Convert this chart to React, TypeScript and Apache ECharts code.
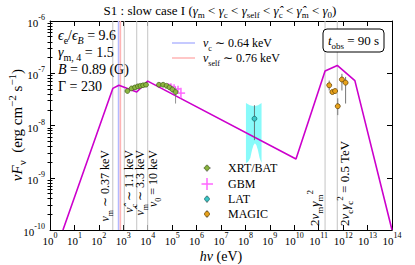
import React, { useEffect, useRef } from 'react';
import * as echarts from 'echarts';

const FONT = 'Liberation Serif, serif';

// decade exponents for axis ticks
const xDecades = [0, 14];
const yDecades = [-10, -6];
const yMinorMultipliers = [2, 3, 4, 5, 6, 7, 8, 9];

// Model spectrum vertices: photon energy (eV) and νFν (erg cm^-2 s^-1)
const modelE = [3.39, 372, 661, 3550, 1.0e4, 1.175e10, 1.82e11, 5.75e11, 3.02e12, 1.0e14];
const modelF = [1.0e-10, 5.13e-8, 5.89e-8, 4.37e-8, 7.08e-8, 2.29e-9, 1.1e-7, 1.41e-7, 7.24e-8, 1.0e-10];

// characteristic frequencies (eV)
const nuGrayLines = [372, 1100, 3550, 1.0e4, 1.82e11, 5.75e11];
const nuC = 640;
const nuSelf = 760;

// XRT/BAT
const xrtE = [1480, 2190, 3020, 3980, 5010, 6460, 8510, 28800, 42700, 58900, 77600, 102000, 138000];
const xrtElo = [1350, 2000, 2760, 3640, 4580, 5900, 7780, 26300, 39000, 53800, 70900, 93200, 126000];
const xrtEhi = [1620, 2400, 3300, 4350, 5480, 7070, 9310, 31500, 46700, 64400, 84900, 111600, 151000];
const xrtF = [4.57e-8, 5.13e-8, 5.37e-8, 5.62e-8, 5.75e-8, 5.89e-8, 6.03e-8, 6.03e-8, 6.03e-8, 5.75e-8, 5.37e-8, 4.9e-8, 4.37e-8];
const xrtFlo = [4.27e-8, 4.79e-8, 5.01e-8, 5.25e-8, 5.37e-8, 5.5e-8, 5.62e-8, 5.62e-8, 5.62e-8, 5.25e-8, 4.9e-8, 4.27e-8, 2.63e-8];
const xrtFhi = [4.9e-8, 5.5e-8, 5.75e-8, 6.03e-8, 6.17e-8, 6.31e-8, 6.46e-8, 6.46e-8, 6.46e-8, 6.17e-8, 5.89e-8, 5.62e-8, 5.37e-8];

// GBM
const gbmE = [70800, 89100, 120000, 174000, 229000];
const gbmElo = [61700, 77600, 100000, 138000, 155000];
const gbmEhi = [81300, 102300, 144500, 218800, 339000];
const gbmF = [5.89e-8, 5.89e-8, 5.5e-8, 5.01e-8, 4.17e-8];
const gbmFlo = [5.37e-8, 5.37e-8, 4.9e-8, 4.37e-8, 3.31e-8];
const gbmFhi = [6.46e-8, 6.46e-8, 6.17e-8, 5.75e-8, 5.25e-8];

// LAT
const latE = [2.34e8];
const latF = [1.35e-8];
const latFlo = [5.25e-9];
const latFhi = [2.45e-8];
const latBandUpE = [1.05e8, 1.51e8, 2.24e8, 3.31e8, 4.57e8];
const latBandUpF = [2.69e-8, 2.45e-8, 2.34e-8, 2.45e-8, 2.69e-8];
const latBandLoE = [4.57e8, 3.8e8, 3.24e8, 2.82e8, 2.45e8, 2.14e8, 1.86e8, 1.58e8, 1.26e8, 1.05e8];
const latBandLoF = [1.91e-9, 2.4e-9, 3.39e-9, 4.17e-9, 4.57e-9, 4.17e-9, 3.39e-9, 2.4e-9, 2.0e-9, 1.91e-9];

// MAGIC
const magE = [2.69e11, 3.63e11, 4.68e11, 6.03e11, 8.91e11, 1.26e12];
const magF = [5.89e-8, 4.37e-8, 4.57e-8, 2.34e-8, 7.59e-8, 6.61e-8];
const magFlo = [4.68e-8, 4.07e-8, 4.27e-8, 1.58e-8, 4.68e-8, 2.63e-8];
const magFhi = [7.24e-8, 4.68e-8, 4.9e-8, 3.31e-8, 9.77e-8, 8.51e-8];

const lg = Math.log10;

function richFor(fs: number) {
  const sub = Math.round(fs * 0.7);
  return {
    r: { fontFamily: FONT, fontSize: fs, lineHeight: fs + 6, color: '#000' },
    i: { fontFamily: FONT, fontSize: fs, lineHeight: fs + 6, fontStyle: 'italic', color: '#000' },
    s: { fontFamily: FONT, fontSize: sub, lineHeight: sub, verticalAlign: 'bottom', color: '#000' },
    si: { fontFamily: FONT, fontSize: sub, lineHeight: sub, verticalAlign: 'bottom', fontStyle: 'italic', color: '#000' },
    p: { fontFamily: FONT, fontSize: sub, lineHeight: sub, verticalAlign: 'top', color: '#000' },
  };
}

function txt(x: number, y: number, text: string, fs: number, extra: any = {}) {
  const { rotation, align, verticalAlign } = extra;
  return {
    type: 'text',
    x,
    y,
    rotation: rotation || 0,
    z: 100,
    style: {
      text,
      rich: richFor(fs),
      fontFamily: FONT,
      align: align || 'left',
      verticalAlign: verticalAlign || 'middle',
    },
  };
}

function errRows(E: number[], F: number[], Elo: number[] | null, Ehi: number[] | null, Flo: number[], Fhi: number[]) {
  return E.map((e, k) => [
    lg(e),
    lg(F[k]),
    lg(Elo ? Elo[k] : e),
    lg(Ehi ? Ehi[k] : e),
    lg(Flo[k]),
    lg(Fhi[k]),
  ]);
}

function errSeries(name: string, rows: number[][], o: any) {
  return {
    type: 'custom',
    name,
    z: o.z || 5,
    data: rows,
    renderItem: (params: any, api: any) => {
      const x = api.value(0), y = api.value(1);
      const c = api.coord([x, y]);
      const pl = api.coord([api.value(2), y]);
      const ph = api.coord([api.value(3), y]);
      const ql = api.coord([x, api.value(4)]);
      const qh = api.coord([x, api.value(5)]);
      const children: any[] = [];
      if (Math.abs(ph[0] - pl[0]) > 0.5)
        children.push({ type: 'line', shape: { x1: pl[0], y1: pl[1], x2: ph[0], y2: ph[1] }, style: { stroke: o.bar, lineWidth: o.w } });
      children.push({ type: 'line', shape: { x1: ql[0], y1: ql[1], x2: qh[0], y2: qh[1] }, style: { stroke: o.bar, lineWidth: o.w } });
      if (o.r)
        children.push({ type: 'circle', shape: { cx: c[0], cy: c[1], r: o.r }, style: { fill: o.fill, stroke: o.stroke, lineWidth: 0.7 } });
      return { type: 'group', children };
    },
  };
}

export default function App() {
  const ref = useRef<HTMLDivElement>(null);
  useEffect(() => {
    if (!ref.current) return;
    const chart = echarts.init(ref.current, undefined, { renderer: 'svg' });

    const yMinor: number[] = [];
    for (let n = yDecades[0]; n < yDecades[1]; n++) yMinorMultipliers.forEach((k) => yMinor.push(n + lg(k)));

    const tickRich = {
      b: { fontFamily: FONT, fontSize: 11, lineHeight: 15, color: '#000', verticalAlign: 'bottom' },
      e: { fontFamily: FONT, fontSize: 8, lineHeight: 8, color: '#000', verticalAlign: 'top' },
    };
    const expLabel = (v: number) => `{b|10}{e|${Math.round(v)}}`;

    const axisLineStyle = { show: true, onZero: false, lineStyle: { color: '#000', width: 1 } };
    const modelData = modelE.map((e, k) => [lg(e), lg(modelF[k])]);

    const vlines: any[] = nuGrayLines.map((e) => [lg(e), 0]);
    vlines.push([lg(nuC), 1]);
    vlines.push([lg(nuSelf), 2]);
    const vColors = ['#c4c4c4', '#b3b9ff', '#ffb4b4'];
    const vWidths = [1, 1.6, 1.6];

    const bandPts: number[][] = [];
    latBandUpE.forEach((e, k) => bandPts.push([lg(e), lg(latBandUpF[k])]));
    latBandLoE.forEach((e, k) => bandPts.push([lg(e), lg(latBandLoF[k])]));

    const option: any = {
      animation: false,
      textStyle: { fontFamily: FONT },
      grid: { left: 50, right: 23, top: 21, bottom: 35 },
      xAxis: [
        {
          type: 'value', min: xDecades[0], max: xDecades[1], interval: 1, position: 'bottom',
          axisLine: axisLineStyle,
          axisTick: { show: true, inside: true, length: 5, lineStyle: { color: '#000' } },
          axisLabel: { formatter: expLabel, rich: tickRich, margin: 1, fontFamily: FONT },
          splitLine: { show: false },
        },
        {
          type: 'value', min: xDecades[0], max: xDecades[1], interval: 1, position: 'top',
          axisLine: axisLineStyle,
          axisTick: { show: true, inside: true, length: 5, lineStyle: { color: '#000' } },
          axisLabel: { show: false },
          splitLine: { show: false },
        },
      ],
      yAxis: [
        {
          type: 'value', min: yDecades[0], max: yDecades[1], interval: 1, position: 'left',
          axisLine: axisLineStyle,
          axisTick: { show: true, inside: true, length: 5, lineStyle: { color: '#000' } },
          axisLabel: { formatter: expLabel, rich: tickRich, margin: 5, fontFamily: FONT },
          splitLine: { show: false },
        },
        {
          type: 'value', min: yDecades[0], max: yDecades[1], interval: 1, position: 'right',
          axisLine: axisLineStyle,
          axisTick: { show: true, inside: true, length: 5, lineStyle: { color: '#000' } },
          axisLabel: { show: false },
          splitLine: { show: false },
        },
        {
          type: 'value', min: yDecades[0], max: yDecades[1], position: 'left',
          axisLine: { show: false },
          axisTick: { show: true, inside: true, length: 2.5, customValues: yMinor, lineStyle: { color: '#000' } },
          axisLabel: { show: false },
          splitLine: { show: false },
        },
        {
          type: 'value', min: yDecades[0], max: yDecades[1], position: 'right',
          axisLine: { show: false },
          axisTick: { show: true, inside: true, length: 2.5, customValues: yMinor, lineStyle: { color: '#000' } },
          axisLabel: { show: false },
          splitLine: { show: false },
        },
      ],
      series: [
        {
          type: 'custom',
          name: 'lines',
          z: 1,
          data: vlines,
          renderItem: (params: any, api: any) => {
            const x = api.value(0);
            const t = api.value(1);
            const a = api.coord([x, yDecades[0]]);
            const b = api.coord([x, yDecades[1]]);
            return { type: 'line', shape: { x1: a[0], y1: a[1], x2: b[0], y2: b[1] }, style: { stroke: vColors[t], lineWidth: vWidths[t] } };
          },
        },
        {
          type: 'custom',
          name: 'LAT band',
          z: 2,
          data: [[lg(latE[0]), lg(latF[0])]],
          renderItem: (params: any, api: any) => ({
            type: 'polygon',
            shape: { points: bandPts.map((p) => api.coord(p)) },
            style: { fill: '#88fafa', stroke: 'none' },
          }),
        },
        {
          type: 'line',
          name: 'model',
          z: 3,
          data: modelData,
          symbol: 'none',
          clip: true,
          lineStyle: { color: '#cc00cc', width: 1.6 },
        },
        errSeries('GBM', errRows(gbmE, gbmF, gbmElo, gbmEhi, gbmFlo, gbmFhi), { bar: '#ff66ff', w: 1.5, z: 4 }),
        errSeries('XRT/BAT', errRows(xrtE, xrtF, xrtElo, xrtEhi, xrtFlo, xrtFhi), { bar: '#777', w: 0.8, r: 2.4, fill: '#8cb640', stroke: '#3e5a14', z: 5 }),
        errSeries('LAT', errRows(latE, latF, null, null, latFlo, latFhi), { bar: '#555', w: 0.8, r: 2.4, fill: '#3cc8c8', stroke: '#116060', z: 5 }),
        errSeries('MAGIC', errRows(magE, magF, null, null, magFlo, magFhi), { bar: '#777', w: 1, r: 2.5, fill: '#e8a21c', stroke: '#5a3c00', z: 6 }),
      ],
      graphic: [
        // title
        txt(220, 10, '{r|S1 : slow case I (}{i|γ}{s|m}{r| < }{i|γ}{s|c}{r| < }{i|γ}{s|self}{r| < }{i|γ̂}{s|c}{r| < }{i|γ̂}{s|m}{r| < }{i|γ}{s|0}{r|)}', 13, { align: 'center' }),
        // parameters
        txt(58, 35, '{i|ϵ}{s|e}{r|/}{i|ϵ}{si|B}{r| = 9.6}', 14),
        txt(58, 52, '{i|γ}{s|m, 4}{r| = 1.5}', 14),
        txt(58, 69, '{i|B}{r| = 0.89 (G)}', 14),
        txt(58, 86, '{r|Γ = 230}', 14),
        // line legend
        { type: 'line', z: 100, shape: { x1: 172, y1: 43, x2: 195, y2: 43 }, style: { stroke: '#b3b9ff', lineWidth: 1.5 } },
        { type: 'line', z: 100, shape: { x1: 172, y1: 58, x2: 195, y2: 58 }, style: { stroke: '#ffb4b4', lineWidth: 1.5 } },
        txt(203, 43, '{i|ν}{s|c}{r| ∼ 0.64 keV}', 12),
        txt(203, 58, '{i|ν}{s|self}{r| ∼ 0.76 keV}', 12),
        // t_obs box
        { type: 'rect', z: 99, shape: { x: 323, y: 29, width: 61, height: 23, r: 4 }, style: { fill: '#fff', stroke: '#000', lineWidth: 1 } },
        txt(353.5, 40.5, '{i|t}{s|obs}{r| = 90 s}', 13, { align: 'center' }),
        // vertical labels
        txt(114, 150, '{i|ν}{s|m}{r| ∼ 0.37 keV}', 12, { rotation: Math.PI / 2, align: 'right', verticalAlign: 'bottom' }),
        txt(138, 150, '{i|ν̂}{s|c}{r| ∼ 1.1 keV}', 12, { rotation: Math.PI / 2, align: 'right', verticalAlign: 'bottom' }),
        txt(149, 150, '{i|ν̂}{s|m}{r| ∼ 3.3 keV}', 12, { rotation: Math.PI / 2, align: 'right', verticalAlign: 'bottom' }),
        txt(162, 150, '{i|ν}{s|0}{r| = 10 keV}', 12, { rotation: Math.PI / 2, align: 'right', verticalAlign: 'bottom' }),
        txt(324, 226, '{r|2}{i|ν}{s|m}{i|γ}{s|m}{p|2}', 13, { rotation: Math.PI / 2, align: 'left', verticalAlign: 'bottom' }),
        txt(354, 226, '{r|2}{i|ν}{s|c}{i|γ}{s|c}{p|2}{r| = 0.5 TeV}', 13, { rotation: Math.PI / 2, align: 'left', verticalAlign: 'bottom' }),
        // data legend
        { type: 'line', z: 100, shape: { x1: 203.5, y1: 168, x2: 211, y2: 168 }, style: { stroke: '#777', lineWidth: 0.8 } },
        { type: 'line', z: 100, shape: { x1: 207, y1: 164.5, x2: 207, y2: 172 }, style: { stroke: '#777', lineWidth: 0.8 } },
        { type: 'circle', z: 101, shape: { cx: 207, cy: 168, r: 2.4 }, style: { fill: '#8cb640', stroke: '#3e5a14', lineWidth: 0.7 } },
        { type: 'line', z: 100, shape: { x1: 201.5, y1: 184, x2: 213, y2: 184 }, style: { stroke: '#ff66ff', lineWidth: 1.5 } },
        { type: 'line', z: 100, shape: { x1: 207, y1: 178, x2: 207, y2: 190 }, style: { stroke: '#ff66ff', lineWidth: 1.5 } },
        { type: 'line', z: 100, shape: { x1: 207, y1: 195.5, x2: 207, y2: 203 }, style: { stroke: '#555', lineWidth: 0.8 } },
        { type: 'circle', z: 101, shape: { cx: 207, cy: 199, r: 2.4 }, style: { fill: '#3cc8c8', stroke: '#116060', lineWidth: 0.7 } },
        { type: 'line', z: 100, shape: { x1: 207, y1: 210, x2: 207, y2: 218 }, style: { stroke: '#777', lineWidth: 1 } },
        { type: 'circle', z: 101, shape: { cx: 207, cy: 214, r: 2.5 }, style: { fill: '#e8a21c', stroke: '#5a3c00', lineWidth: 0.7 } },
        txt(228, 168, '{r|XRT/BAT}', 12),
        txt(228, 184, '{r|GBM}', 12),
        txt(228, 199, '{r|LAT}', 12),
        txt(228, 214, '{r|MAGIC}', 12),
        // axis titles
        txt(17, 125, '{i|ν}{i|F}{s|ν}{r|  (erg cm}{p|−2}{r| s}{p|−1}{r|)}', 15, { rotation: Math.PI / 2, align: 'center' }),
        txt(221, 256, '{i|hν}{r| (eV)}', 14, { align: 'center' }),
      ],
    };
    chart.setOption(option);
    return () => chart.dispose();
  }, []);
  return <div ref={ref} style={{ position: 'absolute', left: 0, top: 0, width: 415, height: 265 }} />;
}
